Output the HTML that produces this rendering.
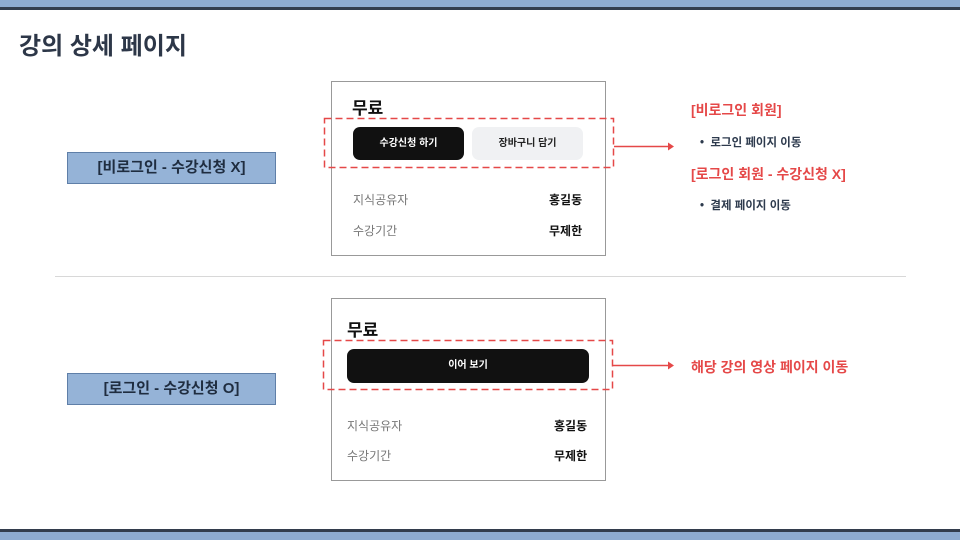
<!DOCTYPE html>
<html><head><meta charset="utf-8"><style>
*{margin:0;padding:0;box-sizing:border-box}
body{width:960px;height:540px;position:relative;background:#fff;overflow:hidden;font-family:"Liberation Sans","Noto Sans CJK KR",sans-serif}
.a{position:absolute}
.lbl{background:#95b3d7;border:1px solid #5f7fa8;color:#1f2d40;font-weight:bold;font-size:15px;text-align:center;line-height:30px}
.card{border:1px solid #999;background:#fff}
.red{color:#e54848;font-weight:bold;font-size:14px}
.blk{color:#2d3a4d;font-weight:bold;font-size:11.5px}
.gray{color:#777;font-size:12px}
.val{color:#111;font-weight:bold;font-size:12px}
</style></head><body>
<div class="a" style="left:0;top:0;width:960px;height:7px;background:#8eabd0"></div>
<div class="a" style="left:0;top:7px;width:960px;height:3px;background:#333d4d"></div>
<div class="a" style="left:0;top:529px;width:960px;height:3px;background:#333d4d"></div>
<div class="a" style="left:0;top:532px;width:960px;height:8px;background:#8eabd0"></div>
<div class="a" style="left:19px;top:26px;font-size:24px;font-weight:bold;color:#2d3748">강의 상세 페이지</div>

<div class="a lbl" style="left:67px;top:152px;width:209px;height:32px">[비로그인 - 수강신청 X]</div>
<div class="a lbl" style="left:67px;top:373px;width:209px;height:32px">[로그인 - 수강신청 O]</div>

<div class="a" style="left:55px;top:276px;width:851px;height:1px;background:#d8d8d8"></div>

<div class="a card" style="left:331px;top:81px;width:275px;height:175px"></div>
<div class="a" style="left:352px;top:94px;font-size:17px;font-weight:bold;color:#111">무료</div>
<div class="a" style="left:353px;top:127px;width:111px;height:33px;background:#111;border-radius:7px;color:#fff;font-size:10px;font-weight:bold;text-align:center;line-height:33px">수강신청 하기</div>
<div class="a" style="left:472px;top:127px;width:111px;height:33px;background:#f0f1f3;border-radius:7px;color:#222;font-size:10px;font-weight:bold;text-align:center;line-height:33px">장바구니 담기</div>
<div class="a gray" style="left:353px;top:191px">지식공유자</div>
<div class="a val" style="left:549px;top:191px">홍길동</div>
<div class="a gray" style="left:353px;top:222px">수강기간</div>
<div class="a val" style="left:549px;top:222px">무제한</div>

<div class="a card" style="left:331px;top:298px;width:275px;height:183px"></div>
<div class="a" style="left:347px;top:316px;font-size:17px;font-weight:bold;color:#111">무료</div>
<div class="a" style="left:347px;top:349px;width:242px;height:34px;background:#111;border-radius:7px;color:#fff;font-size:10px;font-weight:bold;text-align:center;line-height:34px">이어 보기</div>
<div class="a gray" style="left:347px;top:417px">지식공유자</div>
<div class="a val" style="left:554px;top:417px">홍길동</div>
<div class="a gray" style="left:347px;top:447px">수강기간</div>
<div class="a val" style="left:554px;top:447px">무제한</div>

<svg class="a" style="left:0;top:0" width="960" height="540">
<g fill="none" stroke="#e54848" stroke-width="1.5" stroke-dasharray="7,4">
<rect x="324.5" y="118.5" width="289" height="49"/>
<rect x="323.5" y="340.5" width="289" height="49"/>
</g>
<g stroke="#e54848" stroke-width="1.5"><line x1="614" y1="146.5" x2="669" y2="146.5"/><line x1="613" y1="365.5" x2="669" y2="365.5"/></g>
<g fill="#e54848"><polygon points="668,142.5 674,146.5 668,150.5"/><polygon points="668,361.5 674,365.5 668,369.5"/></g>
</svg>

<div class="a red" style="left:691px;top:100px">[비로그인 회원]</div>
<div class="a blk" style="left:700px;top:134px">•&nbsp; 로그인 페이지 이동</div>
<div class="a red" style="left:691px;top:164px">[로그인 회원 - 수강신청 X]</div>
<div class="a blk" style="left:700px;top:197px">•&nbsp; 결제 페이지 이동</div>
<div class="a red" style="left:691px;top:357px">해당 강의 영상 페이지 이동</div>
</body></html>
